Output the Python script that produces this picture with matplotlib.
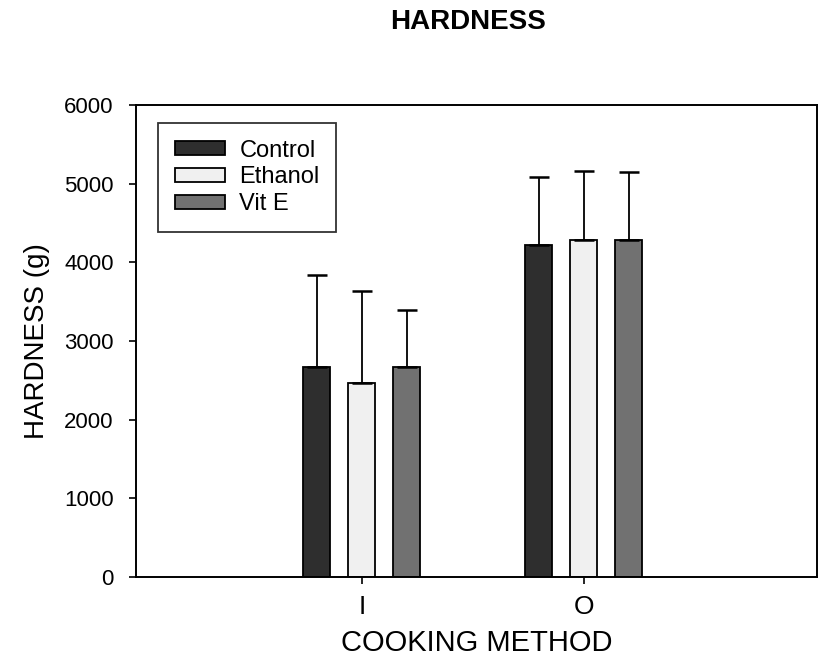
import matplotlib
matplotlib.use("Agg")
import matplotlib.pyplot as plt
import numpy as np

plt.rcParams['font.family'] = ['Liberation Sans', 'DejaVu Sans']

categories = ["I", "O"]
series_names = ["Control", "Ethanol", "Vit E"]
means = {
    "Control": [2670, 4220],
    "Ethanol": [2470, 4285],
    "Vit E":   [2672, 4285],
}
errors = {
    "Control": [1170, 860],
    "Ethanol": [1160, 870],
    "Vit E":   [720, 865],
}
yticks = [0, 1000, 2000, 3000, 4000, 5000, 6000]
colors = {"Control": "#2e2e2e", "Ethanol": "#f0f0f0", "Vit E": "#717171"}

fig = plt.figure(figsize=(8.21, 6.60), dpi=100)
ax = fig.add_axes([136/821, 1-577/660, (817-136)/821, (577-105)/660])

x = np.arange(len(categories))
offset = 45/222
width = 27/222
for i, name in enumerate(series_names):
    xi = x + (i-1)*offset
    ax.bar(xi, means[name], width=width, color=colors[name], edgecolor="black",
           linewidth=1.3, label=name, zorder=2)
    ax.errorbar(xi, means[name], yerr=[np.zeros(len(categories)), errors[name]],
                fmt="none", ecolor="black", elinewidth=1.3, capsize=7, capthick=1.8, zorder=3)

ax.set_xlim(-1.018, 2.05)
ax.set_ylim(0, 6000)
ax.set_yticks(yticks)
ax.set_yticklabels([str(v) for v in yticks], fontsize=16)
ax.set_xticks(x)
ax.set_xticklabels(categories, fontsize=19)
ax.tick_params(axis='y', direction='out', length=5, width=1.2, pad=11)
ax.tick_params(axis='x', direction='out', length=5, width=1.2, pad=8)
for s in ax.spines.values():
    s.set_linewidth(1.4)

ax.set_ylabel("HARDNESS (g)", fontsize=20, labelpad=10)
ax.set_xlabel("COOKING METHOD", fontsize=21, labelpad=7)
fig.text(468/821, 1-22/660, "HARDNESS", ha="center", va="center", fontsize=20, fontweight="bold")

leg = ax.legend(loc="upper left", bbox_to_anchor=((158-136)/681, 1-(123-105)/472),
                fontsize=17, frameon=True, fancybox=False, edgecolor="black",
                handlelength=2.15, handleheight=0.55, borderpad=0.7, labelspacing=0.2,
                handletextpad=0.6, borderaxespad=0)
leg.get_frame().set_linewidth(1.3)

fig.savefig("out.png", dpi=100)
